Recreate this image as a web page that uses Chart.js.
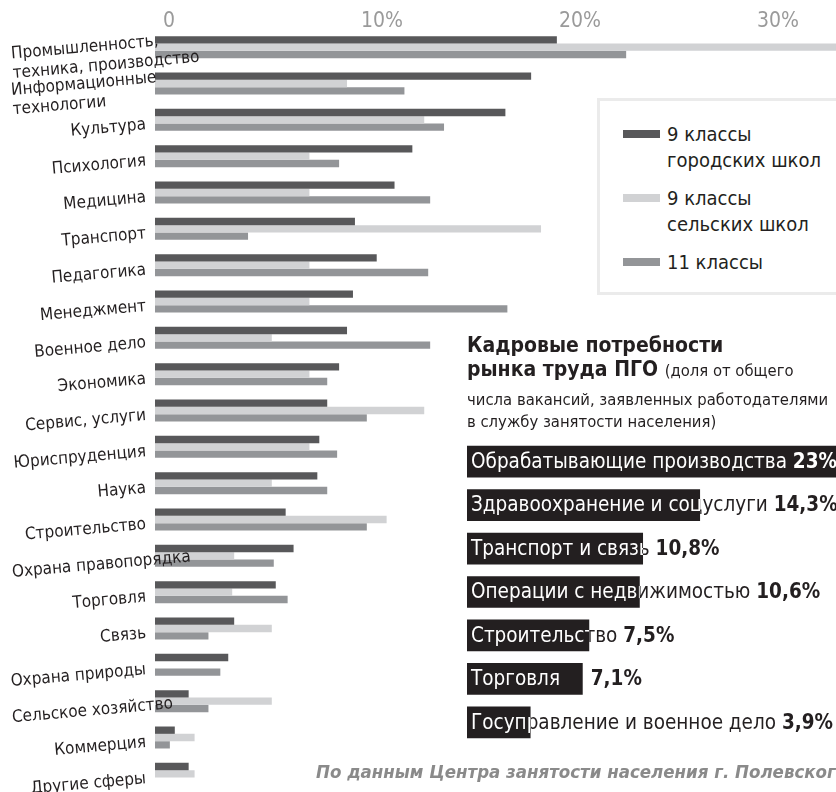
<!DOCTYPE html>
<html>
<head>
<meta charset="utf-8">
<script src="https://cdn.jsdelivr.net/npm/chart.js@4.4.1/dist/chart.umd.min.js"></script>
<style>
  html, body { margin: 0; padding: 0; background: #fff; overflow: hidden; }
  #wrap { position: relative; width: 836px; height: 792px; overflow: hidden;
          font-family: 'DejaVu Sans Condensed', sans-serif; color: #231f20; }
  #main { position: absolute; left: 0; top: 0; }
  #needs { position: absolute; left: 467px; top: 440px; }
  #legend { position: absolute; left: 597px; top: 98px; width: 260px; height: 191px;
            border: 3px solid #ebebeb; background: #fff; }
  .item { position: absolute; left: 23px; font-size: 20px; line-height: 26px; }
  .item .sw { position: absolute; left: 0; top: 9px; width: 37px; height: 8px; }
  .item .tx { margin-left: 44px; }
  #head { position: absolute; left: 467px; top: 333px; width: 380px; white-space: nowrap; }
  #head .big { font-weight: bold; font-size: 21px; line-height: 24px; }
  #head .small { font-size: 16.5px; line-height: 22px; font-weight: normal; }
  #head .gap { margin-top: 7px; }
  #source { position: absolute; left: 316px; top: 761px; white-space: nowrap;
            font-weight: bold; font-style: italic; font-size: 18.5px; color: #8a8a8a; }
</style>
</head>
<body>
<div id="wrap">
  <canvas id="main" width="836" height="792"></canvas>
  <div id="legend"></div>
  <div id="head">
    <div class="big">Кадровые потребности</div>
    <div class="big">рынка труда ПГО <span class="small">(доля от общего</span></div>
    <div class="small gap">числа вакансий, заявленных работодателями</div>
    <div class="small">в службу занятости населения)</div>
  </div>
  <canvas id="needs" width="369" height="304"></canvas>
  <div id="source">По данным Центра занятости населения г. Полевского</div>
</div>
<script>
const FONT = "'DejaVu Sans Condensed', sans-serif";
Chart.defaults.font.family = FONT;

// profiles chosen by school leavers, % of answers
const categories = [
  ['Промышленность,', 'техника, производство'], ['Информационные', 'технологии'],
  'Культура', 'Психология', 'Медицина', 'Транспорт', 'Педагогика', 'Менеджмент',
  'Военное дело', 'Экономика', 'Сервис, услуги', 'Юриспруденция', 'Наука',
  'Строительство', 'Охрана правопорядка', 'Торговля', 'Связь', 'Охрана природы',
  'Сельское хозяйство', 'Коммерция', 'Другие сферы'
];
const city9   = [20.3, 19.0, 17.7, 13.0, 12.1, 10.1, 11.2, 10.0, 9.7, 9.3, 8.7, 8.3, 8.2, 6.6, 7.0, 6.1, 4.0, 3.7, 1.7, 1.0, 1.7];
const rural9  = [35.0, 9.7, 13.6, 7.8, 7.8, 19.5, 7.8, 7.8, 5.9, 7.8, 13.6, 7.8, 5.9, 11.7, 4.0, 3.9, 5.9, null, 5.9, 2.0, 2.0];
const grade11 = [23.8, 12.6, 14.6, 9.3, 13.9, 4.7, 13.8, 17.8, 13.9, 8.7, 10.7, 9.2, 8.7, 10.7, 6.0, 6.7, 2.7, 3.3, 2.7, 0.75, null];
const seriesNames = [['9 классы', 'городских школ'], ['9 классы', 'сельских школ'], ['11 классы']];
const xTicks = [0, 10, 20, 30];

// labour market needs, share of vacancies
const needNames  = ['Обрабатывающие производства', 'Здравоохранение и соцуслуги', 'Транспорт и связь',
                    'Операции с недвижимостью', 'Строительство', 'Торговля', 'Госуправление и военное дело'];
const needShares = [23, 14.3, 10.8, 10.6, 7.5, 7.1, 3.9];
const needLabels = ['23%', '14,3%', '10,8%', '10,6%', '7,5%', '7,1%', '3,9%'];

const colors = ['#58585a', '#d1d2d4', '#939598'];
const TILT = 5;

// y labels are mirrored (so not clipped to the axis box) and then put back:
// right aligned next to the bars, or, when too long, starting at the left edge
const labelFit = {
  id: 'labelFit',
  beforeDraw(chart) {
    const ctx = chart.ctx;
    const s = chart.scales.y;
    const xr = s.right - 9;
    const slope = Math.tan(TILT * Math.PI / 180);
    s.getLabelItems(chart.chartArea).forEach(it => {
      if (it.fitted) return;
      it.fitted = true;
      ctx.font = it.font.string;
      const w = Math.max(...[].concat(it.label).map(l => ctx.measureText(l).width));
      it.options.textAlign = 'right';
      it.options.translation[0] = xr;
      if (xr - w < 10) {
        it.options.textAlign = 'left';
        it.options.translation[1] += (xr - 12) * slope;
        it.options.translation[0] = 12;
      }
    });
  }
};

const mainChart = new Chart(document.getElementById('main'), {
  type: 'bar',
  data: {
    labels: categories,
    datasets: [
      { label: seriesNames[0].join(' '), data: city9, backgroundColor: colors[0] },
      { label: seriesNames[1].join(' '), data: rural9, backgroundColor: colors[1] },
      { label: seriesNames[2].join(' '), data: grade11, backgroundColor: colors[2] }
    ]
  },
  options: {
    indexAxis: 'y',
    responsive: false,
    animation: false,
    layout: { padding: 0 },
    datasets: { bar: { categoryPercentage: 0.605, barPercentage: 1, borderWidth: 0 } },
    plugins: { legend: { display: false }, tooltip: { enabled: false } },
    scales: {
      x: {
        position: 'top', min: 0, max: 34.4,
        grid: { display: false, drawTicks: false }, border: { display: false },
        afterBuildTicks: s => { s.ticks = xTicks.map(v => ({ value: v })); },
        afterFit: s => { s.height = 29; s.paddingLeft = 0; s.paddingRight = 0; },
        ticks: {
          align: 'start', labelOffset: 8, padding: -3, color: '#9a9a9a',
          font: { size: 21, lineHeight: 1 },
          callback: v => v === 0 ? '0' : v + '%'
        }
      },
      y: {
        grid: { display: false, drawTicks: false }, border: { display: false },
        afterFit: s => { s.width = 155; s.paddingTop = 0; s.paddingBottom = 0; },
        ticks: {
          z: 1, mirror: true, autoSkip: false, minRotation: TILT, padding: 9, labelOffset: 5,
          color: '#231f20', font: { size: 17, lineHeight: 1.15 }
        }
      }
    }
  },
  plugins: [labelFit]
});

// html legend from the dataset names
const legendBox = document.getElementById('legend');
let itemTop = 20;
seriesNames.forEach((lines, i) => {
  const el = document.createElement('div');
  el.className = 'item';
  el.style.top = itemTop + 'px';
  el.innerHTML = '<div class="sw" style="background:' + colors[i] + '"></div><div class="tx">' + lines.join('<br>') + '</div>';
  legendBox.appendChild(el);
  itemTop += lines.length * 26 + 12;
});

// text over the black bars: white inside the bar, black outside
const needText = {
  id: 'needText',
  afterDatasetsDraw(chart) {
    const ctx = chart.ctx;
    chart.getDatasetMeta(0).data.forEach((bar, i) => {
      const { x, y, base, height } = bar.getProps(['x', 'y', 'base', 'height'], true);
      const tx = base + 4;
      ctx.save();
      ctx.font = '20.5px ' + FONT;
      const nameW = ctx.measureText(needNames[i]).width;
      const spaceW = ctx.measureText(' ').width;
      ctx.font = 'bold 20.5px ' + FONT;
      const valueW = ctx.measureText(needLabels[i]).width;
      let vx = tx + nameW + spaceW;
      if (vx < x && vx + valueW > x) vx = x + 8;
      const paint = color => {
        ctx.fillStyle = color;
        ctx.textBaseline = 'middle';
        ctx.font = '20.5px ' + FONT;
        ctx.fillText(needNames[i], tx, y + 1);
        ctx.font = 'bold 20.5px ' + FONT;
        ctx.fillText(needLabels[i], vx, y + 1);
      };
      paint('#231f20');
      ctx.beginPath();
      ctx.rect(base, y - height / 2, x - base, height);
      ctx.clip();
      paint('#ffffff');
      ctx.restore();
    });
  }
};

const needsChart = new Chart(document.getElementById('needs'), {
  type: 'bar',
  data: {
    labels: needNames,
    datasets: [{ data: needShares, backgroundColor: '#231f20', borderWidth: 0,
                 barPercentage: 0.73, categoryPercentage: 1 }]
  },
  options: {
    indexAxis: 'y',
    responsive: false,
    animation: false,
    layout: { padding: 0 },
    plugins: { legend: { display: false }, tooltip: { enabled: false } },
    scales: {
      x: { display: false, min: 0, max: 22.64 },
      y: { display: false }
    }
  },
  plugins: [needText]
});
</script>
</body>
</html>
